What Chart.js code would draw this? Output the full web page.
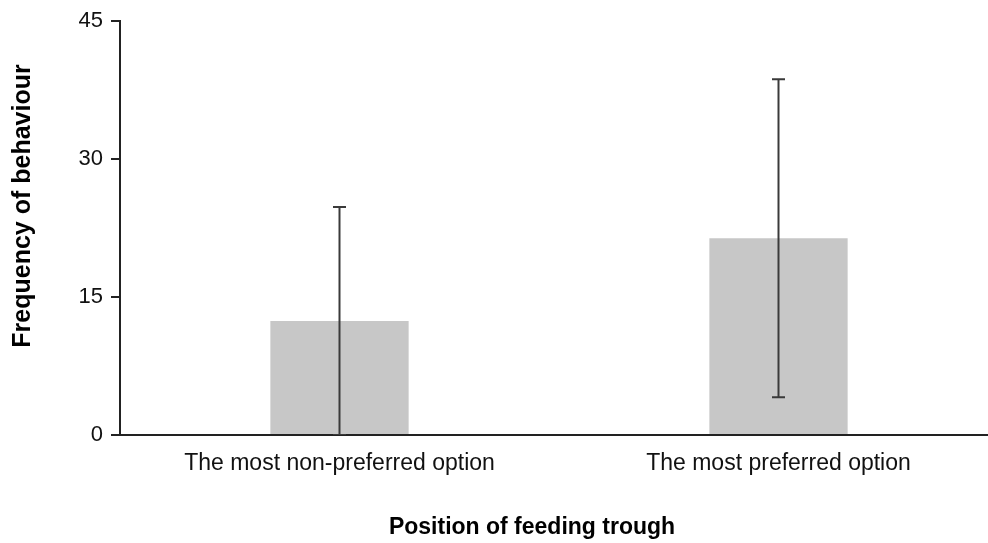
<!DOCTYPE html>
<html>
<head>
<meta charset="utf-8">
<script src="https://cdn.jsdelivr.net/npm/chart.js@4/dist/chart.umd.min.js"></script>
<style>
  html, body { margin: 0; padding: 0; background: #ffffff; overflow: hidden; }
  #wrap { width: 998px; height: 543px; position: relative; }
</style>
</head>
<body>
<div id="wrap"><canvas id="chart"></canvas></div>
<script>
// Feeding-trough position vs. frequency of behaviour (mean ± error)
const categories = ['The most non-preferred option', 'The most preferred option'];
const meanValues = [12.4, 21.4];
const errorValues = [12.4, 17.3];
const yTicks = [0, 15, 30, 45];
const yTitle = 'Frequency of behaviour';
const xTitle = 'Position of feeding trough';

const FONT = '"Liberation Sans", Arial, Helvetica, sans-serif';

// Vertical error bars with caps, positioned through the chart scales
const errorBarPlugin = {
  id: 'errorBars',
  afterDatasetsDraw(chart) {
    const ctx = chart.ctx;
    const y = chart.scales.y;
    const meta = chart.getDatasetMeta(0);
    ctx.save();
    ctx.beginPath();
    ctx.rect(chart.chartArea.left, chart.chartArea.top - 5, chart.chartArea.width, chart.chartArea.height + 5);
    ctx.clip();
    ctx.strokeStyle = '#3a3a3a';
    ctx.lineWidth = 2;
    meta.data.forEach((bar, i) => {
      const x = bar.x;
      const hi = y.getPixelForValue(meanValues[i] + errorValues[i]);
      const lo = y.getPixelForValue(meanValues[i] - errorValues[i]);
      const cap = 6.5;
      ctx.beginPath();
      ctx.moveTo(x, hi); ctx.lineTo(x, lo);
      ctx.moveTo(x - cap, hi); ctx.lineTo(x + cap, hi);
      ctx.moveTo(x - cap, lo); ctx.lineTo(x + cap, lo);
      ctx.stroke();
    });
    ctx.restore();
  }
};

// Axis titles
const axisTitlePlugin = {
  id: 'axisTitles',
  afterDraw(chart) {
    const ctx = chart.ctx;
    ctx.save();
    ctx.fillStyle = '#000000';
    ctx.textAlign = 'center';
    ctx.textBaseline = 'middle';
    ctx.font = 'bold 23px ' + FONT;
    ctx.fillText(xTitle, 532, 528);
    ctx.font = 'bold 25px ' + FONT;
    ctx.translate(23, 206);
    ctx.rotate(-Math.PI / 2);
    ctx.fillText(yTitle, 0, 0);
    ctx.restore();
  }
};

new Chart(document.getElementById('chart'), {
  type: 'bar',
  data: {
    labels: categories,
    datasets: [{
      data: meanValues,
      backgroundColor: '#c7c7c7',
      borderWidth: 0,
      categoryPercentage: 1.0,
      barPercentage: 0.315
    }]
  },
  options: {
    responsive: true,
    maintainAspectRatio: false,
    animation: false,
    layout: { padding: { top: 21, right: 0, left: 0, bottom: 0 } },
    plugins: {
      legend: { display: false },
      tooltip: { enabled: false },
      title: { display: false }
    },
    scales: {
      x: {
        grid: { display: false, drawTicks: false },
        border: { display: true, color: '#222222', width: 2 },
        ticks: {
          color: '#111111',
          font: { family: FONT, size: 23 },
          padding: 15,
          maxRotation: 0,
          autoSkip: false
        },
        afterFit(scale) { scale.height = 108; }
      },
      y: {
        min: 0,
        max: 45,
        afterBuildTicks(scale) { scale.ticks = yTicks.map(v => ({ value: v })); },
        grid: { drawOnChartArea: false, drawTicks: true, tickLength: 9, color: '#222222', lineWidth: 2 },
        border: { display: true, color: '#222222', width: 2 },
        ticks: {
          color: '#111111',
          font: { family: FONT, size: 22 },
          padding: 8
        },
        afterFit(scale) { scale.width = 120; }
      }
    }
  },
  plugins: [errorBarPlugin, axisTitlePlugin]
});
</script>
</body>
</html>
